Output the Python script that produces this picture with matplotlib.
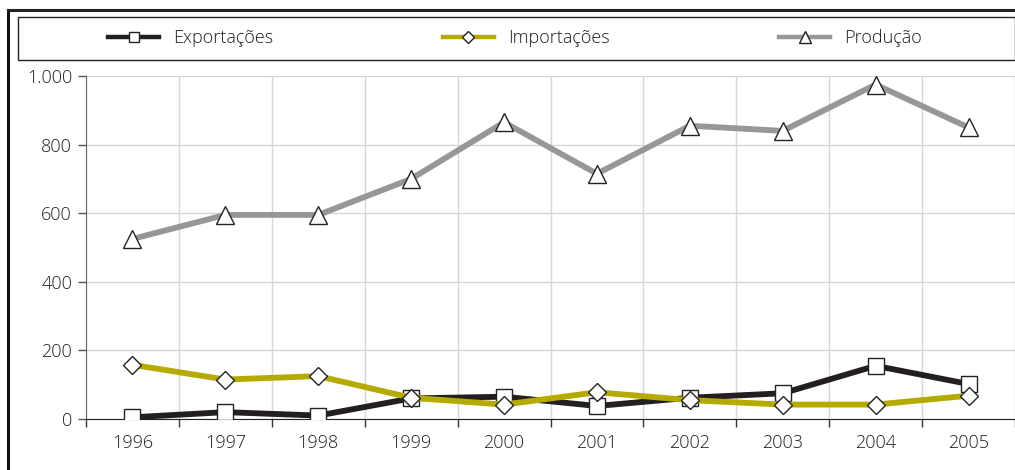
import matplotlib.pyplot as plt
from matplotlib.patches import Rectangle
from matplotlib.ticker import FuncFormatter
import numpy as np

plt.rcParams["font.family"] = ["Open Sans", "DejaVu Sans"]
plt.rcParams["font.weight"] = "light"

anos = ["1996", "1997", "1998", "1999", "2000", "2001", "2002", "2003", "2004", "2005"]
exportacoes = [5, 20, 10, 60, 65, 38, 62, 75, 155, 102]
importacoes = [158, 115, 125, 62, 42, 78, 55, 42, 42, 68]
producao = [525, 595, 595, 700, 865, 715, 855, 840, 975, 850]

txt = "#1e1e1e"
fs = 13
x = np.arange(len(anos))

fig = plt.figure(figsize=(10.15, 4.7), dpi=100)
ax = fig.add_axes([86 / 1015, 1 - 419 / 470, 1 - 86 / 1015, (419 - 76) / 470])

# moldura externa e caixa da legenda
fig.add_artist(plt.Line2D([8 / 1015, 8 / 1015], [0, 1 - 10 / 470], transform=fig.transFigure,
                          color="#111111", lw=2.2))
fig.add_artist(plt.Line2D([8 / 1015, 1], [1 - 10 / 470, 1 - 10 / 470], transform=fig.transFigure,
                          color="#222222", lw=2.2))
fig.add_artist(Rectangle((18 / 1015, 1 - 60 / 470), 1 - 18 / 1015, 43 / 470,
                         transform=fig.transFigure, fill=False, ec="#222222", lw=1.0))

ax.plot(x, producao, color="#97979a", lw=4.2, marker="^", ms=12.5, mfc="white",
        mec="#222222", mew=1.0, label="Produção", zorder=3)
ax.plot(x, exportacoes, color="#231f20", lw=4.2, marker="s", ms=11, mfc="white",
        mec="#222222", mew=1.0, label="Exportações", zorder=4)
ax.plot(x, importacoes, color="#b5aa00", lw=4.2, marker="D", ms=9.5, mfc="white",
        mec="#222222", mew=1.0, label="Importações", zorder=5)

ax.set_xlim(-0.5, len(anos) - 0.5)
ax.set_ylim(0, 1000)
ax.set_yticks(range(0, 1001, 200))
ax.yaxis.set_major_formatter(FuncFormatter(lambda v, p: f"{int(v):,}".replace(",", ".")))
ax.set_xticks(x)
ax.set_xticklabels(anos)
ax.set_xticks(np.arange(-0.5, len(anos), 1), minor=True)
ax.tick_params(axis="x", which="major", length=0, pad=11, labelsize=fs, labelcolor=txt)
ax.tick_params(axis="x", which="minor", length=6, width=1, color="#333333", direction="out")
ax.tick_params(axis="y", length=6, width=1, color="#555555", labelsize=fs, labelcolor=txt, pad=4)
ax.grid(True, which="minor", axis="x", color="#d6d6d6", lw=1)
ax.grid(True, which="major", axis="y", color="#d6d6d6", lw=1)
ax.set_axisbelow(True)
for s in ["top", "right"]:
    ax.spines[s].set_visible(False)
ax.spines["left"].set_color("#666666")
ax.spines["bottom"].set_color("#222222")

h, l = ax.get_legend_handles_labels()
order = [1, 2, 0]
leg = fig.legend([h[i] for i in order], [l[i] for i in order], loc="center left",
                 bbox_to_anchor=(92 / 1015, 1 - 38 / 470), ncol=3, frameon=False,
                 fontsize=fs, handlelength=2.8, handletextpad=0.8, columnspacing=9.4,
                 labelcolor=txt, markerscale=0.65)
for ln in leg.get_lines():
    ln.set_linewidth(3.2)

fig.savefig("out.png", dpi=100)
